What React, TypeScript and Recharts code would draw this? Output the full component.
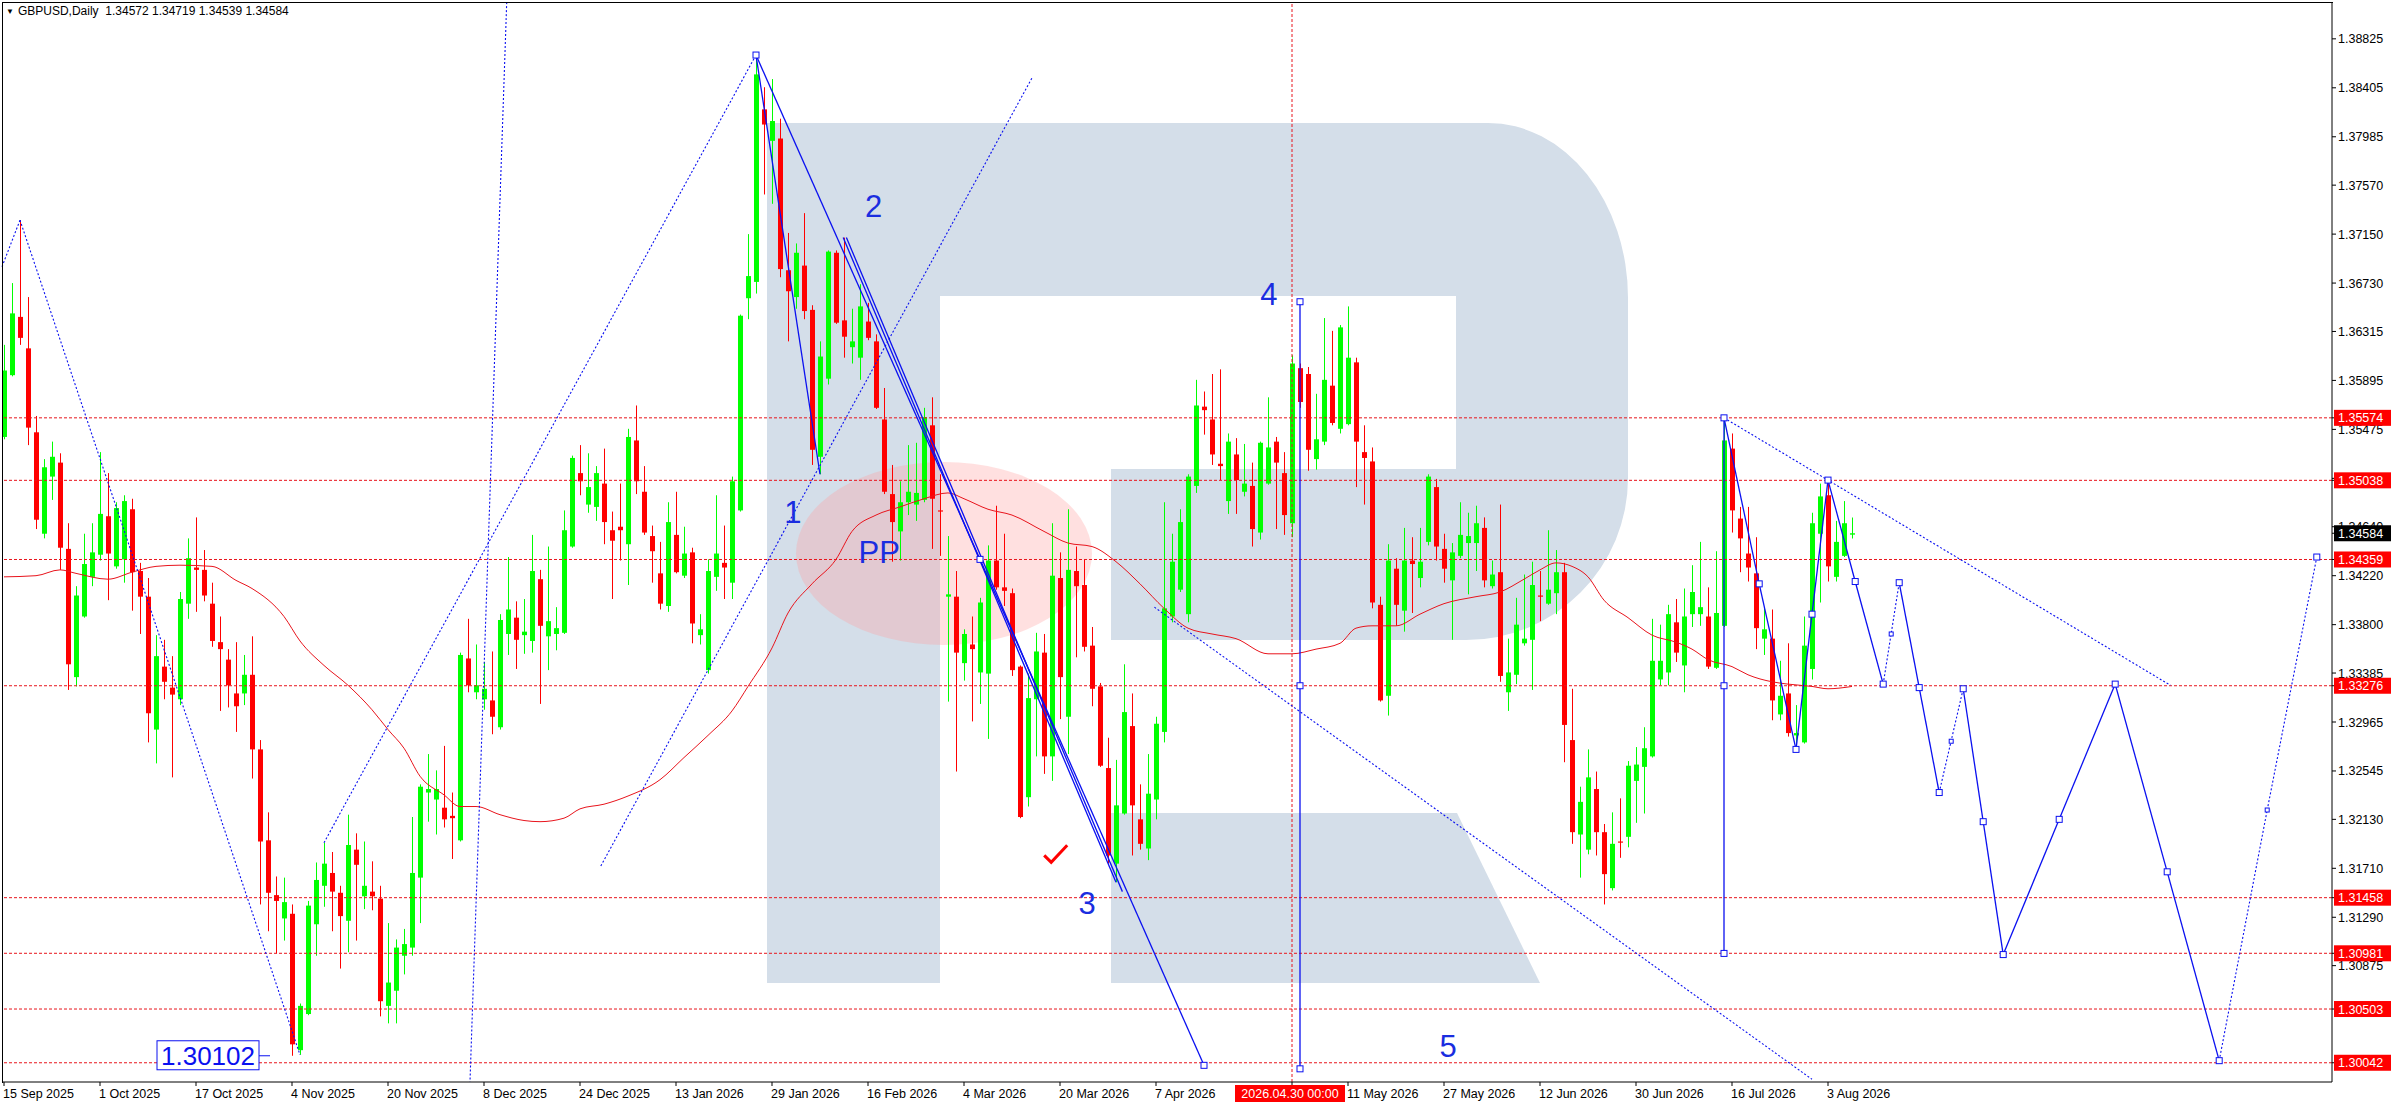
import React from "react";
import {
  ComposedChart,
  Bar,
  Line,
  XAxis,
  YAxis,
  ReferenceLine,
  ReferenceDot,
  ReferenceArea,
} from "recharts";

// GBPUSD daily candles, one value per trading day
const opens = [
  1.3541, 1.3594, 1.3644, 1.3617, 1.3545, 1.3458, 1.3507, 1.3519, 1.3445, 1.3335,
  1.3387, 1.3421, 1.344, 1.3473, 1.343, 1.3436, 1.3479, 1.3426, 1.3404, 1.329,
  1.3344, 1.3326, 1.3316, 1.3398, 1.3429, 1.3427, 1.3398, 1.3365, 1.335, 1.3321,
  1.3321, 1.3337, 1.3273, 1.3195, 1.3148, 1.3128, 1.3132, 1.3015, 1.3046, 1.3123,
  1.3156, 1.3167, 1.315, 1.3126, 1.3187, 1.3147, 1.3151, 1.3145, 1.3053, 1.3066,
  1.3096, 1.3103, 1.3163, 1.3236, 1.323, 1.3223, 1.3216, 1.3195, 1.3351, 1.3322,
  1.3316, 1.3315, 1.3292, 1.3372, 1.3386, 1.3371, 1.3366, 1.3419, 1.337, 1.3372,
  1.3373, 1.3447, 1.351, 1.3483, 1.3481, 1.3501, 1.3461, 1.3464, 1.3449, 1.3538,
  1.3494, 1.3456, 1.3424, 1.3396, 1.3457, 1.3422, 1.3442, 1.3371, 1.3341, 1.3421,
  1.3433, 1.3416, 1.3478, 1.366, 1.3674, 1.3822, 1.3795, 1.3797, 1.3684, 1.3661,
  1.3688, 1.365, 1.3524, 1.3591, 1.3699, 1.3641, 1.3618, 1.3609, 1.364, 1.3623,
  1.3556, 1.3492, 1.346, 1.3485, 1.3483, 1.3487, 1.3551, 1.3478, 1.3404, 1.3404,
  1.3347, 1.3363, 1.3339, 1.3338, 1.3435, 1.3412, 1.3407, 1.3344, 1.3232, 1.3316,
  1.3356, 1.3267, 1.342, 1.3301, 1.3426, 1.3414, 1.3362, 1.3327, 1.3257, 1.3175,
  1.3218, 1.3293, 1.3213, 1.3188, 1.323, 1.3288, 1.3387, 1.341, 1.3389, 1.3499,
  1.3567, 1.3556, 1.3518, 1.3486, 1.3526, 1.3494, 1.3499, 1.3459, 1.3501, 1.3537,
  1.351, 1.3467, 1.36, 1.3595, 1.3522, 1.3537, 1.3585, 1.3548, 1.3552, 1.3605,
  1.3528, 1.352, 1.3397, 1.3319, 1.3428, 1.3392, 1.3435, 1.342, 1.3451, 1.3498,
  1.3445, 1.3418, 1.3439, 1.345, 1.345, 1.3463, 1.3413, 1.3425, 1.3322, 1.3337,
  1.3364, 1.3367, 1.3405, 1.3398, 1.3407, 1.3425, 1.3281, 1.32, 1.3187, 1.3239,
  1.3202, 1.3154, 1.3194, 1.3198, 1.3246, 1.3258, 1.3267, 1.3333, 1.3339, 1.3382,
  1.3345, 1.3389, 1.3389, 1.3387, 1.3343, 1.3379, 1.3531, 1.3471, 1.3441, 1.3424,
  1.3368, 1.3368, 1.3303, 1.3321, 1.3285, 1.3279, 1.3342, 1.3458, 1.3491, 1.3421,
  1.3439, 1.34572,
];
const highs = [
  1.362, 1.3673, 1.3727, 1.3661, 1.3559, 1.3522, 1.3537, 1.3527, 1.3467, 1.3413,
  1.3458, 1.3467, 1.3528, 1.351, 1.3485, 1.3491, 1.3488, 1.3433, 1.342, 1.3371,
  1.3367, 1.3353, 1.3408, 1.3454, 1.3472, 1.3444, 1.3416, 1.3387, 1.3359, 1.3365,
  1.3354, 1.337, 1.3281, 1.3219, 1.3164, 1.3163, 1.314, 1.3055, 1.3143, 1.3176,
  1.3193, 1.3185, 1.3156, 1.3217, 1.3201, 1.3194, 1.3177, 1.3156, 1.3124, 1.311,
  1.3119, 1.3215, 1.3243, 1.3269, 1.3255, 1.3276, 1.3236, 1.3356, 1.3385, 1.3363,
  1.3348, 1.3357, 1.3389, 1.3438, 1.34, 1.3402, 1.3457, 1.3427, 1.3447, 1.3395,
  1.3478, 1.3525, 1.3534, 1.3527, 1.3516, 1.3531, 1.3477, 1.3501, 1.3548, 1.3568,
  1.3516, 1.3465, 1.3451, 1.3485, 1.3494, 1.3464, 1.3446, 1.3389, 1.3436, 1.3491,
  1.3465, 1.3507, 1.3646, 1.3715, 1.3869, 1.3841, 1.3848, 1.3814, 1.3716, 1.3707,
  1.3733, 1.3654, 1.3623, 1.3701, 1.3701, 1.3712, 1.3651, 1.3672, 1.3656, 1.3629,
  1.3583, 1.3517, 1.3503, 1.3534, 1.3536, 1.3566, 1.3575, 1.3509, 1.3456, 1.3426,
  1.3376, 1.3387, 1.3403, 1.3448, 1.3482, 1.3458, 1.3411, 1.3345, 1.3338, 1.3373,
  1.3372, 1.3467, 1.3442, 1.3479, 1.3447, 1.3436, 1.3378, 1.333, 1.3283, 1.3264,
  1.3346, 1.3321, 1.3243, 1.3269, 1.3301, 1.3485, 1.3458, 1.3479, 1.3509, 1.359,
  1.358, 1.3595, 1.3599, 1.3544, 1.354, 1.3535, 1.3519, 1.3537, 1.3575, 1.3541,
  1.3528, 1.3611, 1.3604, 1.3601, 1.3578, 1.3643, 1.3632, 1.3637, 1.3653, 1.3609,
  1.3551, 1.3532, 1.3404, 1.3449, 1.3437, 1.3463, 1.3455, 1.3463, 1.3509, 1.3505,
  1.3458, 1.345, 1.3485, 1.3476, 1.3482, 1.3472, 1.3435, 1.3483, 1.3368, 1.3403,
  1.3423, 1.3434, 1.3426, 1.3461, 1.3444, 1.3433, 1.3325, 1.3241, 1.3273, 1.3254,
  1.3209, 1.3219, 1.3231, 1.3263, 1.3275, 1.3292, 1.3385, 1.338, 1.3397, 1.3402,
  1.3411, 1.3431, 1.3451, 1.3412, 1.3443, 1.35574, 1.3544, 1.3481, 1.3481, 1.3455,
  1.3394, 1.3393, 1.3349, 1.3364, 1.3311, 1.3387, 1.3476, 1.3501, 1.3504, 1.3469,
  1.3486, 1.34719,
];
const lows = [
  1.3539, 1.3593, 1.362, 1.3534, 1.3462, 1.3454, 1.3487, 1.3427, 1.3324, 1.3327,
  1.3386, 1.3413, 1.3435, 1.3401, 1.3428, 1.3416, 1.3392, 1.3372, 1.3279, 1.3261,
  1.3316, 1.3249, 1.3311, 1.3385, 1.3391, 1.34, 1.3361, 1.3306, 1.3309, 1.3288,
  1.3311, 1.3248, 1.314, 1.3117, 1.3098, 1.3109, 1.30102, 1.3011, 1.3045, 1.3096,
  1.3138, 1.3117, 1.3085, 1.3099, 1.3109, 1.3136, 1.3135, 1.3044, 1.3038, 1.3038,
  1.308, 1.3096, 1.3124, 1.3211, 1.32, 1.3206, 1.3179, 1.3194, 1.3322, 1.3316,
  1.3307, 1.3286, 1.329, 1.3354, 1.3342, 1.3355, 1.3356, 1.3312, 1.3341, 1.3358,
  1.3372, 1.3446, 1.3491, 1.3476, 1.3469, 1.3449, 1.3402, 1.3435, 1.3414, 1.3492,
  1.3457, 1.3416, 1.3393, 1.3391, 1.3424, 1.342, 1.3364, 1.3363, 1.3338, 1.3409,
  1.3402, 1.3402, 1.3477, 1.3642, 1.3664, 1.3749, 1.3741, 1.3678, 1.3623, 1.3651,
  1.3642, 1.3517, 1.3509, 1.3586, 1.3638, 1.3609, 1.3604, 1.359, 1.3624, 1.3565,
  1.3492, 1.3434, 1.3435, 1.3474, 1.3469, 1.3485, 1.3445, 1.3439, 1.3314, 1.3254,
  1.3332, 1.3297, 1.3312, 1.3282, 1.341, 1.3396, 1.3336, 1.3214, 1.3224, 1.3267,
  1.3252, 1.3246, 1.3299, 1.3269, 1.3352, 1.3357, 1.331, 1.3258, 1.3175, 1.3159,
  1.3217, 1.3182, 1.3187, 1.3178, 1.3213, 1.3279, 1.3382, 1.3408, 1.3382, 1.3493,
  1.3543, 1.3517, 1.3504, 1.3475, 1.3475, 1.349, 1.3447, 1.3453, 1.35, 1.3462,
  1.3457, 1.3455, 1.3566, 1.3512, 1.3513, 1.3534, 1.3551, 1.3544, 1.3551, 1.3498,
  1.3483, 1.3394, 1.3314, 1.3302, 1.3379, 1.3374, 1.339, 1.3412, 1.3448, 1.3435,
  1.3416, 1.3367, 1.3437, 1.3406, 1.3426, 1.3412, 1.3411, 1.3331, 1.3306, 1.3329,
  1.3362, 1.3324, 1.3383, 1.3397, 1.3389, 1.3262, 1.3192, 1.3163, 1.3183, 1.3182,
  1.314, 1.3152, 1.318, 1.3189, 1.321, 1.3218, 1.3266, 1.3328, 1.3328, 1.3348,
  1.3322, 1.3378, 1.3379, 1.3342, 1.3342, 1.3378, 1.3459, 1.3425, 1.3417, 1.3359,
  1.3354, 1.3298, 1.3298, 1.3284, 1.3273, 1.3278, 1.3333, 1.3399, 1.3417, 1.3417,
  1.3438, 1.34539,
];
const closes = [
  1.3598, 1.3647, 1.3626, 1.3549, 1.347, 1.3515, 1.3524, 1.3446, 1.3346, 1.3405,
  1.3432, 1.3442, 1.3475, 1.3441, 1.348, 1.3486, 1.3425, 1.3404, 1.3304, 1.3353,
  1.3331, 1.332, 1.3402, 1.3437, 1.3427, 1.3405, 1.3366, 1.3359, 1.3328, 1.331,
  1.3337, 1.3273, 1.3194, 1.315, 1.3143, 1.3142, 1.302, 1.3053, 1.3139, 1.3161,
  1.3175, 1.3151, 1.313, 1.3191, 1.3174, 1.3156, 1.3147, 1.3057, 1.3073, 1.3103,
  1.3106, 1.3167, 1.3241, 1.3239, 1.3239, 1.3213, 1.3214, 1.3354, 1.3328, 1.3328,
  1.3325, 1.3301, 1.3384, 1.3393, 1.3367, 1.3374, 1.3426, 1.3379, 1.3383, 1.3377,
  1.3461, 1.3523, 1.3503, 1.3498, 1.351, 1.3468, 1.3452, 1.3461, 1.3541, 1.3503,
  1.3459, 1.3443, 1.3398, 1.3468, 1.3425, 1.3441, 1.3381, 1.3376, 1.3426, 1.3441,
  1.3429, 1.3503, 1.3645, 1.3679, 1.3852, 1.3809, 1.3812, 1.3685, 1.3666, 1.3699,
  1.3649, 1.353, 1.361, 1.37, 1.3639, 1.3627, 1.3623, 1.3653, 1.3626, 1.3566,
  1.3494, 1.3468, 1.3485, 1.3494, 1.3493, 1.3558, 1.3488, 1.3477, 1.3406, 1.3356,
  1.3372, 1.3359, 1.3399, 1.3435, 1.3412, 1.3409, 1.3341, 1.3215, 1.3317, 1.3357,
  1.3267, 1.3422, 1.3335, 1.3427, 1.3413, 1.3361, 1.3325, 1.3259, 1.3182, 1.3225,
  1.3305, 1.3225, 1.3192, 1.3235, 1.3295, 1.3394, 1.3434, 1.3468, 1.3507, 1.3568,
  1.3564, 1.3526, 1.3516, 1.3537, 1.3504, 1.3501, 1.3462, 1.3536, 1.3532, 1.3519,
  1.3474, 1.3604, 1.3571, 1.353, 1.3539, 1.359, 1.3553, 1.3635, 1.3609, 1.3537,
  1.3523, 1.3399, 1.3315, 1.3435, 1.3397, 1.3435, 1.3432, 1.3434, 1.3507, 1.3447,
  1.3428, 1.3442, 1.3457, 1.3456, 1.3467, 1.3418, 1.3423, 1.3336, 1.3339, 1.338,
  1.3368, 1.3414, 1.3404, 1.341, 1.3425, 1.3294, 1.3202, 1.3228, 1.3249, 1.3202,
  1.3166, 1.3192, 1.3193, 1.3259, 1.326, 1.3274, 1.3349, 1.3349, 1.3389, 1.3356,
  1.3387, 1.3408, 1.3395, 1.3344, 1.339, 1.3538, 1.3478, 1.3454, 1.3429, 1.3377,
  1.3376, 1.3315, 1.3319, 1.3287, 1.3287, 1.3362, 1.3467, 1.349, 1.343, 1.3451,
  1.3467, 1.34584,
];

// moving average, read at a few bars and joined by the line
const maIdx = [
  0, 4, 7, 9, 13, 16, 19, 22, 26, 29, 31, 35, 37, 40, 43, 46, 48, 50, 52, 55, 57, 59,
  62, 65, 67, 70, 72, 75, 78, 82, 85, 88, 91, 93, 96, 98, 101, 104, 106, 109, 112,
  115, 118, 120, 123, 126, 130, 133, 136, 139, 142, 145, 148, 151, 154, 158, 161,
  164, 167, 169, 171, 174, 177, 180, 184, 187, 190, 192, 194, 196, 198, 200, 203,
  206, 209, 211, 213, 216, 218, 221, 223, 226, 228, 231,
];
const maVal = [
  1.3421, 1.3422, 1.3427, 1.3424, 1.3419, 1.3425, 1.343, 1.3431, 1.343, 1.3418,
  1.3411, 1.3387, 1.3366, 1.3345, 1.3328, 1.3307, 1.329, 1.3274, 1.325, 1.3234,
  1.3224, 1.3224, 1.3217, 1.3212, 1.3211, 1.3214, 1.3222, 1.3226, 1.3233, 1.3247,
  1.3266, 1.3285, 1.3306, 1.3327, 1.336, 1.339, 1.3415, 1.3436, 1.346, 1.3474,
  1.3481, 1.3488, 1.3493, 1.3488, 1.3479, 1.3474, 1.346, 1.345, 1.3447, 1.3434,
  1.3415, 1.3394, 1.3377, 1.3372, 1.3368, 1.3355, 1.3355, 1.3359, 1.3364, 1.3377,
  1.3379, 1.3379, 1.3389, 1.3398, 1.3404, 1.3408, 1.3419, 1.3427, 1.3433, 1.343,
  1.3421, 1.3401, 1.3386, 1.3371, 1.3365, 1.3359, 1.335, 1.3344, 1.3337, 1.3331,
  1.3329, 1.3327, 1.3325, 1.3327,
];

const tickIdx = [0, 12, 24, 36, 48, 60, 72, 84, 96, 108, 120, 132, 144, 168, 180, 192, 204, 216, 228];
const tickLabels = [
  "15 Sep 2025", "1 Oct 2025", "17 Oct 2025", "4 Nov 2025", "20 Nov 2025", "8 Dec 2025",
  "24 Dec 2025", "13 Jan 2026", "29 Jan 2026", "16 Feb 2026", "4 Mar 2026", "20 Mar 2026",
  "7 Apr 2026", "11 May 2026", "27 May 2026", "12 Jun 2026", "30 Jun 2026", "16 Jul 2026",
  "3 Aug 2026",
];
const cursorIdx = 161;
const cursorLabel = "2026.04.30 00:00";

const priceTicks = [
  1.38825, 1.38405, 1.37985, 1.3757, 1.3715, 1.3673, 1.36315, 1.35895, 1.35475, 1.35055,
  1.3464, 1.3422, 1.338, 1.33385, 1.32965, 1.32545, 1.3213, 1.3171, 1.3129, 1.30875,
];
const levels = [1.35574, 1.35038, 1.34359, 1.33276, 1.31458, 1.30981, 1.30503, 1.30042];
const lastPrice = 1.34584;
const lowPrice = 1.30102;

// wave drawing: solid and dotted polylines as [bar, price]
const solidPaths = [
  [[94, 1.38686], [102, 1.3509]],
  [[94, 1.38686], [122, 1.3436], [150, 1.3002]],
  [[104.9, 1.3712], [139, 1.3159]],
  [[105.3, 1.3712], [139.8, 1.3151]],
  [[162, 1.3657], [162, 1.2999]],
  [[215, 1.35574], [215, 1.3098]],
  [[215, 1.35574], [219.4, 1.3415], [224, 1.3273], [226, 1.3389], [228, 1.3504], [231.4, 1.3417], [234.9, 1.3329]],
  [[236.9, 1.3416], [239.4, 1.3326], [241.9, 1.3236]],
  [[244.9, 1.3325], [247.4, 1.3211], [249.9, 1.3097], [256.9, 1.3213], [263.9, 1.3329], [270.4, 1.3168], [276.9, 1.3006]],
];
const dottedPaths = [
  [[-0.25, 1.3687], [2, 1.3727], [37, 1.3011]],
  [[40, 1.3193], [94, 1.38686]],
  [[62.84, 1.3914], [58.25, 1.2988]],
  [[74.6, 1.3173], [128.5, 1.3849]],
  [[143.8, 1.3395], [226, 1.299]],
  [[215, 1.35574], [270.8, 1.3328]],
  [[234.9, 1.3329], [236.9, 1.3416]],
  [[241.9, 1.3236], [244.9, 1.3325]],
  [[276.9, 1.3006], [282.9, 1.3221], [289.1, 1.3438]],
];
const markIdx = [94, 122, 150, 162, 162, 162, 215, 215, 215, 219.4, 224, 226, 228, 231.4, 234.9, 236.9, 239.4, 241.9, 244.9, 247.4, 249.9, 256.9, 263.9, 270.4, 276.9, 289.1];
const markVal = [1.38686, 1.3436, 1.3002, 1.3657, 1.33276, 1.2999, 1.35574, 1.33276, 1.3098, 1.3415, 1.3273, 1.3389, 1.3504, 1.3417, 1.3329, 1.3416, 1.3326, 1.3236, 1.3325, 1.3211, 1.3097, 1.3213, 1.3329, 1.3168, 1.3006, 1.3438];
const smallIdx = [235.9, 243.4, 282.9];
const smallVal = [1.3372, 1.328, 1.3221];

const noteText = ["1", "2", "3", "4", "5", "PP"];
const noteIdx = [98.6, 108.7, 135.4, 158.1, 180.5, 109.4];
const noteVal = [1.3477, 1.3739, 1.3141, 1.3664, 1.3019, 1.3442];

const FONT = "'Liberation Sans', Arial, Helvetica, sans-serif";
const BLUE = "#0a10f0";
const RED = "#e8141c";

const maMap = new Map(maIdx.map((k, n) => [k, maVal[n]]));
const rows = opens.map((o, i) => ({
  i,
  o,
  h: highs[i],
  l: lows[i],
  c: closes[i],
  range: [lows[i], highs[i]],
  ma: maMap.has(i) ? maMap.get(i) : null,
}));

function Candle(props: any) {
  const { x, y, width, height, payload } = props;
  if (!payload || x == null || y == null) return null;
  const { o, h, l, c } = payload;
  const up = c >= o;
  const color = up ? "#00ff00" : "#ff0000";
  const top = Math.min(y, y + height);
  const hgt = Math.abs(height);
  const span = h - l || 1e-9;
  const py = (p: number) => top + ((h - p) / span) * hgt;
  const bt = py(Math.max(o, c));
  const bb = py(Math.min(o, c));
  const cx = Math.round(x + width / 2) + 0.5;
  return (
    <g>
      <line x1={cx} x2={cx} y1={top} y2={top + hgt} stroke={color} strokeWidth={1} />
      <rect x={cx - 2.5} y={bt} width={5} height={Math.max(1, bb - bt)} fill={color} />
    </g>
  );
}

function PriceTick(props: any) {
  const { x, y, payload } = props;
  const v = payload.value;
  const txt = Number(v).toFixed(5);
  if (levels.includes(v) || v === lastPrice) {
    const bg = v === lastPrice ? "#000000" : "#ff0000";
    return (
      <g>
        <rect x={x - 4} y={y - 8} width={57} height={16} fill={bg} />
        <text x={x} y={y} dy={4.5} fill="#ffffff" fontSize={12.5} fontFamily={FONT}>
          {txt}
        </text>
      </g>
    );
  }
  return (
    <text x={x} y={y} dy={4.5} fill="#000000" fontSize={12.5} fontFamily={FONT}>
      {txt}
    </text>
  );
}

function DateTick(props: any) {
  const { x, y, payload } = props;
  const v = payload.value;
  if (v === cursorIdx) {
    return (
      <g>
        <rect x={x - 57} y={y - 3} width={110} height={17} fill="#ff0000" />
        <text x={x - 2} y={y} dy={10} textAnchor="middle" fill="#ffffff" fontSize={12.5} fontFamily={FONT}>
          {cursorLabel}
        </text>
      </g>
    );
  }
  const k = tickIdx.indexOf(v);
  return (
    <text x={x - 1} y={y} dy={10} textAnchor="start" fill="#000000" fontSize={12.5} fontFamily={FONT}>
      {tickLabels[k]}
    </text>
  );
}

const ellipseShape = (p: any) => (
  <ellipse
    cx={p.x + p.width / 2}
    cy={p.y + p.height / 2}
    rx={Math.abs(p.width) / 2}
    ry={Math.abs(p.height) / 2}
    fill="#ff9f9f"
    fillOpacity={0.32}
  />
);

const squareShape = (size: number) => (p: any) => (
  <rect
    x={p.cx - size / 2}
    y={p.cy - size / 2}
    width={size}
    height={size}
    fill="#ffffff"
    stroke={BLUE}
    strokeWidth={1}
  />
);

function segments(paths: number[][][], dash: string | undefined, w: number, tag: string) {
  return paths.flatMap((pts, a) =>
    pts.slice(1).map((pt, b) => (
      <ReferenceLine
        key={`${tag}-${a}-${b}`}
        segment={[
          { x: pts[b][0], y: pts[b][1] },
          { x: pt[0], y: pt[1] },
        ]}
        stroke={BLUE}
        strokeWidth={w}
        strokeDasharray={dash}
        ifOverflow="visible"
      />
    ))
  );
}

export default function App() {
  return (
    <div
      style={{
        position: "absolute",
        left: 0,
        top: 0,
        width: 2396,
        height: 1110,
        background: "#ffffff",
        overflow: "hidden",
      }}
    >
      {/* watermark logo behind the chart */}
      <svg style={{ position: "absolute", left: 0, top: 0 }} width={2396} height={1110}>
        <path
          d="M767 123 H1488 A140 175 0 0 1 1628 298 V478 A162 162 0 0 1 1466 640 H1111 V469 H1456 V296 H940 V983 H767 Z"
          fill="#d4dee9"
        />
        <path d="M1111 813 H1457 L1540 983 H1111 Z" fill="#d4dee9" />
      </svg>

      <div style={{ position: "absolute", left: 0, top: 0 }}>
        <ComposedChart
          width={2396}
          height={1110}
          data={rows}
          margin={{ top: 2, right: 0, bottom: 0, left: 2 }}
        >
          <XAxis
            dataKey="i"
            type="number"
            domain={[-0.25, 291]}
            allowDataOverflow
            ticks={[...tickIdx, cursorIdx]}
            interval={0}
            tick={<DateTick />}
            tickSize={4}
            height={28}
            axisLine={{ stroke: "#000000" }}
            tickLine={{ stroke: "#000000" }}
          />
          <YAxis
            orientation="right"
            type="number"
            domain={[1.29877, 1.39141]}
            allowDataOverflow
            ticks={[...priceTicks, ...levels, lastPrice]}
            interval={0}
            tick={<PriceTick />}
            tickSize={4}
            width={64}
            axisLine={{ stroke: "#000000" }}
            tickLine={{ stroke: "#000000" }}
          />

          <ReferenceArea x1={99} x2={136} y1={1.33625} y2={1.35195} shape={ellipseShape} ifOverflow="visible" />

          {levels.map((v) => (
            <ReferenceLine key={`lv-${v}`} y={v} stroke={RED} strokeDasharray="3 2" />
          ))}
          <ReferenceLine x={cursorIdx} stroke={RED} strokeDasharray="3 2" />

          <Line
            dataKey="ma"
            type="monotone"
            stroke={RED}
            strokeWidth={1}
            dot={false}
            connectNulls
            isAnimationActive={false}
          />
          <Bar dataKey="range" barSize={5} shape={Candle} isAnimationActive={false} />

          {segments(solidPaths, undefined, 1.3, "s")}
          {segments(dottedPaths, "2 2", 1.1, "d")}

          {markIdx.map((x, n) => (
            <ReferenceDot key={`m-${n}`} x={x} y={markVal[n]} r={3} shape={squareShape(6)} ifOverflow="visible" />
          ))}
          {smallIdx.map((x, n) => (
            <ReferenceDot key={`sm-${n}`} x={x} y={smallVal[n]} r={2} shape={squareShape(4)} ifOverflow="visible" />
          ))}

          {noteText.map((t, n) => (
            <ReferenceDot
              key={`t-${n}`}
              x={noteIdx[n]}
              y={noteVal[n]}
              r={1}
              ifOverflow="visible"
              shape={(p: any) => (
                <text
                  x={p.cx}
                  y={p.cy}
                  dy={11}
                  textAnchor="middle"
                  fontSize={31}
                  fontFamily={FONT}
                  fill="#1a2de0"
                >
                  {t}
                </text>
              )}
            />
          ))}

          <ReferenceDot
            x={131.4}
            y={1.3183}
            r={1}
            ifOverflow="visible"
            shape={(p: any) => (
              <path
                d={`M${p.cx - 11} ${p.cy + 1} L${p.cx - 4} ${p.cy + 8} L${p.cx + 12} ${p.cy - 9}`}
                stroke="#ff0000"
                strokeWidth={3}
                fill="none"
              />
            )}
          />

          <ReferenceDot
            x={25.5}
            y={lowPrice}
            r={1}
            ifOverflow="visible"
            shape={(p: any) => (
              <g>
                <rect x={p.cx - 51} y={p.cy - 15} width={102} height={29} fill="#ffffff" stroke={BLUE} strokeWidth={1} />
                <line x1={p.cx + 51} x2={p.cx + 62} y1={p.cy} y2={p.cy} stroke={BLUE} strokeWidth={1} />
                <text x={p.cx} y={p.cy} dy={9} textAnchor="middle" fontSize={26} fontFamily={FONT} fill={BLUE}>
                  {lowPrice.toFixed(5)}
                </text>
              </g>
            )}
          />
        </ComposedChart>
      </div>

      {/* chart frame, top and left edges */}
      <div
        style={{
          position: "absolute",
          left: 2,
          top: 2,
          width: 2330,
          height: 1080,
          borderLeft: "1px solid #000",
          borderTop: "1px solid #000",
          pointerEvents: "none",
        }}
      />

      <div
        style={{
          position: "absolute",
          left: 6,
          top: 4,
          fontFamily: FONT,
          fontSize: 12,
          color: "#000",
          whiteSpace: "pre",
        }}
      >
        <span style={{ fontSize: 8, marginRight: 4, position: "relative", top: -1 }}>▼</span>
        GBPUSD,Daily  1.34572 1.34719 1.34539 1.34584
      </div>
    </div>
  );
}
